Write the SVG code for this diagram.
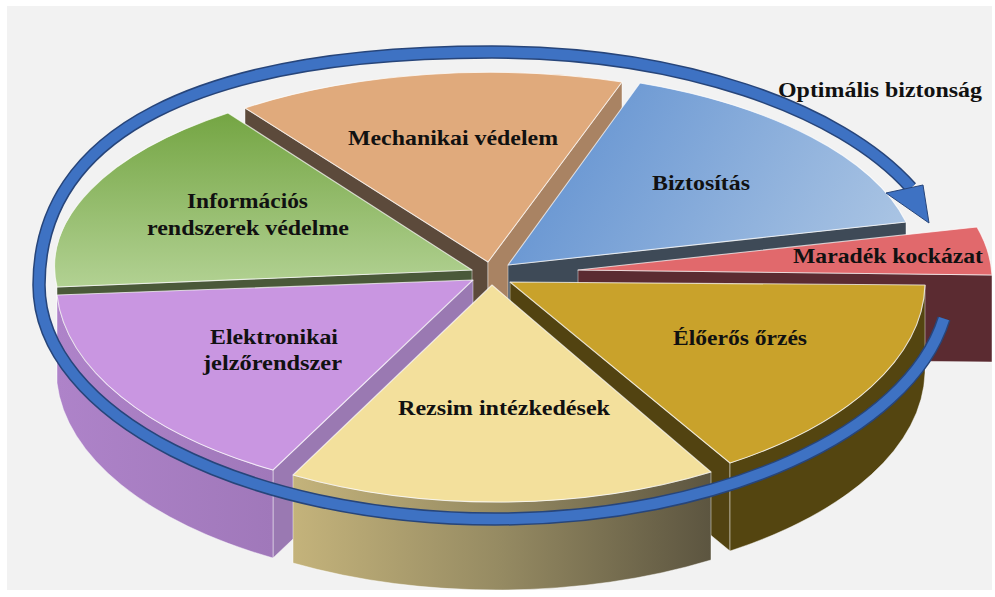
<svg xmlns="http://www.w3.org/2000/svg" width="995" height="597" viewBox="0 0 995 597">
<defs>
<linearGradient id="gGreen" gradientUnits="userSpaceOnUse" x1="0" y1="113" x2="0" y2="290">
<stop offset="0" stop-color="#74a543"/><stop offset="1" stop-color="#b3d294"/>
</linearGradient>
<linearGradient id="gBlue" gradientUnits="userSpaceOnUse" x1="600" y1="90" x2="880" y2="250">
<stop offset="0" stop-color="#6b98d3"/><stop offset="1" stop-color="#a8c3e3"/>
</linearGradient>
<linearGradient id="gYelSide" gradientUnits="userSpaceOnUse" x1="293" y1="0" x2="711" y2="0">
<stop offset="0" stop-color="#c4b37b"/><stop offset="0.5" stop-color="#958a62"/><stop offset="1" stop-color="#5c5540"/>
</linearGradient>
<linearGradient id="gPurSide" gradientUnits="userSpaceOnUse" x1="57" y1="0" x2="273" y2="0">
<stop offset="0" stop-color="#ae83c9"/><stop offset="1" stop-color="#a078ba"/>
</linearGradient>
</defs>
<style>
.lbl{font-family:"Liberation Serif","Times New Roman",serif;font-weight:bold;font-size:21px;fill:#111;}
.top{stroke:#ffffff;stroke-opacity:0.7;stroke-width:1.1;stroke-linejoin:round;}
.side{stroke:#ffffff;stroke-opacity:0.45;stroke-width:1;stroke-linejoin:round;}
</style>
<rect x="0" y="0" width="995" height="597" fill="#ffffff"/>
<rect x="7" y="6" width="985" height="584" fill="#f2f2f2"/>

<g id="slice-mechanikai">
<path class="side" d="M245,108 L488,262 L488,350 L245,196 Z" fill="#5c4a3b"/>
<path class="side" d="M488,262 L622,82 L622,170 L488,350 Z" fill="#a98363"/>
<path class="top" d="M488,262 L245,108 A420 190 0 0 1 622,82 Z" fill="#e0aa7c"/>
<text class="lbl" x="348" y="145" textLength="210" lengthAdjust="spacingAndGlyphs">Mechanikai védelem</text>
</g>

<g id="slice-informacios">
<path class="side" d="M57,287 L472,270 L472,358 L57,375 Z" fill="#4a5939"/>
<path class="top" d="M472,270 L57,287 A420 190 0 0 1 228,113 Z" fill="url(#gGreen)"/>
<text class="lbl" x="187" y="208" textLength="121" lengthAdjust="spacingAndGlyphs">Információs</text>
<text class="lbl" x="147" y="235" textLength="202" lengthAdjust="spacingAndGlyphs">rendszerek védelme</text>
</g>

<g id="slice-biztositas">
<path class="side" d="M508,265 L906,222 L906,310 L508,353 Z" fill="#3e4a57"/>
<path class="top" d="M508,265 L640,83 A420 195 0 0 1 906,222 Z" fill="url(#gBlue)"/>
<text class="lbl" x="652" y="190" textLength="98" lengthAdjust="spacingAndGlyphs">Biztosítás</text>
</g>

<g id="slice-maradek">
<path class="side" d="M578,270 L992,275 L992,362 L578,358 Z" fill="#5b2b31"/>
<path class="top" d="M578,270 L977,227 A420 200 0 0 1 992,275 Z" fill="#e1696c"/>
<text class="lbl" x="793" y="263" textLength="190" lengthAdjust="spacingAndGlyphs">Maradék kockázat</text>
</g>

<g id="slice-elektronikai">
<path class="side" d="M473,280 L273,470 L273,558 L473,368 Z" fill="#9a79b2"/>
<path class="side" d="M57,295 A420 215 0 0 0 273,470 L273,558 A420 215 0 0 1 57,383 Z" fill="url(#gPurSide)"/>
<path class="top" d="M473,280 L273,470 A420 215 0 0 1 57,295 Z" fill="#c996e1"/>
<text class="lbl" x="210" y="344" textLength="128" lengthAdjust="spacingAndGlyphs">Elektronikai</text>
<text class="lbl" x="203" y="370" textLength="139" lengthAdjust="spacingAndGlyphs">jelzőrendszer</text>
</g>

<g id="slice-eloeros">
<path class="side" d="M510,282 L730,463 L730,551 L510,370 Z" fill="#524311"/>
<path class="side" d="M925,285 A420 215 0 0 1 730,463 L730,551 A420 215 0 0 0 925,373 Z" fill="#544510"/>
<path class="top" d="M510,282 L925,285 A420 215 0 0 1 730,463 Z" fill="#c9a22b"/>
<text class="lbl" x="673" y="345" textLength="134" lengthAdjust="spacingAndGlyphs">Élőerős őrzés</text>
</g>

<g id="slice-rezsim">
<path class="side" d="M293,475 A420 215 0 0 0 711,472 L711,560 A420 215 0 0 1 293,563 Z" fill="url(#gYelSide)"/>
<path class="top" d="M492,285 L711,472 A420 215 0 0 1 293,475 Z" fill="#f3e09c"/>
<text class="lbl" x="398" y="415" textLength="212" lengthAdjust="spacingAndGlyphs">Rezsim intézkedések</text>
</g>

<g id="connectors">
<path d="M944,318.6 C908.6,431.9 720.2,519 495,519 C244,519 39,414 39,285 C39,133.5 197.6,52 492,52 C678.5,52 839.7,107.6 911,187.7" fill="none" stroke="#27457a" stroke-width="13.5"/>
<path d="M944,318.6 C908.6,431.9 720.2,519 495,519 C244,519 39,414 39,285 C39,133.5 197.6,52 492,52 C678.5,52 839.7,107.6 911,187.7" fill="none" stroke="#3e72c3" stroke-width="10.5"/>
<polygon points="886,193 923,185 929,223" fill="#3e72c3" stroke="#27457a" stroke-width="1" stroke-linejoin="round"/>
</g>

<g id="label-optimalis">
<text class="lbl" x="778" y="97" textLength="204" lengthAdjust="spacingAndGlyphs" style="font-size:22px">Optimális biztonság</text>
</g>
</svg>
